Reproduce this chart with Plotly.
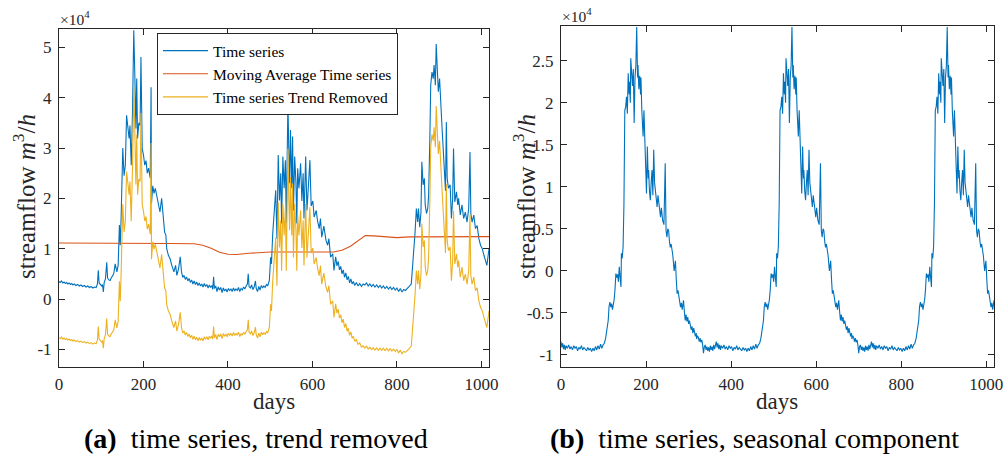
import plotly.graph_objects as go

# ---------------- data ----------------
days = [0, 3, 6, 9, 12, 15, 18, 21, 24, 27, 30, 33, 36, 40, 44, 48, 52, 56, 60, 64, 68, 72, 76, 80, 84, 88,
        91, 93, 95, 98, 101, 103, 105, 107, 110, 113, 115, 118, 121, 124, 127, 130, 133, 137, 140, 143, 145,
        147, 149, 151, 154, 157, 160, 163, 166, 168, 171, 174, 177, 179, 182, 184, 186, 189, 192, 194, 197,
        200, 203, 206, 209, 212, 216, 218, 219, 222, 225, 228, 232, 235, 239, 243, 247, 250, 253, 255, 259,
        263, 267, 272, 276, 279, 283, 287, 290, 293, 296, 299, 302, 305, 308, 311, 314, 317, 320, 323, 326,
        329, 332, 335, 338, 341, 344, 347, 350, 353, 356, 359, 362, 364, 366, 368, 371, 374, 377, 380, 383,
        386, 389, 392, 395, 398, 401, 404, 407, 410, 413, 416, 419, 422, 425, 428, 431, 434, 437, 440, 443,
        446, 448, 450, 453, 456, 459, 462, 465, 467, 470, 473, 476, 479, 482, 485, 488, 491, 494, 498, 501,
        503, 506, 508, 513, 516, 519, 522, 525, 527, 530, 533, 536, 538, 540, 542, 544, 546, 548, 551, 553,
        555, 558, 561, 563, 565, 568, 572, 575, 578, 580, 584, 587, 590, 594, 597, 601, 604, 609, 612, 616,
        619, 622, 627, 632, 636, 639, 643, 648, 651, 655, 658, 661, 664, 667, 670, 673, 676, 679, 682, 685,
        688, 691, 694, 697, 700, 704, 708, 712, 716, 720, 724, 728, 732, 736, 740, 744, 748, 752, 756, 760,
        764, 768, 772, 776, 780, 784, 788, 792, 796, 800, 804, 808, 812, 816, 820, 824, 828, 834, 837, 840,
        843, 846, 849, 851, 854, 857, 859, 862, 865, 867, 870, 873, 875, 878, 880, 883, 886, 888, 891, 893,
        896, 898, 901, 904, 907, 910, 912, 915, 917, 919, 922, 926, 929, 932, 934, 937, 941, 944, 946, 950,
        954, 958, 962, 966, 970, 973, 975, 978, 982, 986, 990, 994, 998, 1002, 1006, 1010, 1013, 1016, 1018]

time_series = [3500, 3300, 3600, 3200, 3400, 3100, 3300, 3000, 3200, 2900, 3100, 2800, 3000, 2700, 2900, 2600,
               2800, 2500, 2700, 2400, 2600, 2300, 2500, 2200, 2400, 2300,
               3000, 5700, 3200, 2800, 2600, 2900, 1400, 3300, 4000, 7300, 4200, 3800, 3700, 4300, 4600, 5200,
               7000, 5400, 6700, 14700, 10700,
               16000, 25000, 30000, 24500, 26600, 36500, 34500, 31900, 34500, 26600, 37200, 53400, 46500, 33900,
               43800, 31900, 35000, 34500, 48100, 29900,
               28600, 26600, 27500, 25000, 26000, 24000, 42100, 19000, 22500, 21000, 22000, 20000, 19300, 17300,
               20000, 16000, 13300, 12700, 10000, 8700,
               8000, 6700, 5400, 6700, 4700, 6000, 8400, 5400, 4300, 4700, 3900, 4400, 3600, 4100, 3300, 3800,
               3000, 3600, 2900, 3400,
               2700, 3200, 2600, 3000, 2400, 3100, 2500, 2900, 2200, 2800, 2300, 2700, 1900, 4400, 2100, 2600,
               1500, 2400, 1800, 2300,
               1300, 2200, 1600, 2000, 1400, 2100, 1700, 2000, 1500, 2200, 1600, 2000, 1700, 2300, 1500, 2100,
               1800, 2400, 2000, 2600,
               3000, 5000, 2500, 2200, 2800, 1900, 2400, 3600, 2100, 1500, 2500, 1800, 2700, 2200, 2600, 2300,
               2900, 2600, 3700, 8300,
               7000, 13000, 16000, 21600, 12000, 28600, 19600, 25000, 15000, 28300, 22000, 27600, 15000, 28300,
               39200, 29600, 23000, 33600, 22000, 32300,
               17600, 28300, 23000, 15000, 26000, 22000, 27000, 19500, 25000, 16000, 28300, 17600, 21500, 27600,
               18500, 19500, 16300, 17600, 15600, 14000,
               16000, 12300, 14500, 11700, 10700, 12000, 8300, 9000, 5700, 8400, 6600, 7500, 5800, 6500, 5000,
               5800, 4300, 5200, 3800, 4500,
               3200, 4000, 3000, 3500, 2700, 3300, 2600, 3100, 2500, 3000, 2800, 3200, 2600, 3000, 2500, 2900,
               2400, 2800, 2300, 2700,
               2200, 2600, 2100, 2500, 2000, 2400, 1900, 2300, 1800, 2200, 1500, 2100, 1400, 1900, 1700, 2000,
               2400, 3000, 6000, 9400,
               13300, 18000, 15300, 18000, 14300, 17300, 27300, 22700, 24000, 18700, 17000, 18000, 20600, 32000,
               42500, 45100, 43800, 46500, 42500, 50700,
               45100, 41200, 43800, 39800, 33800, 29200, 25300, 21500, 35200, 24000, 22000, 22700, 16000, 20000,
               29900, 19300, 21300, 18700, 20000, 16700,
               18700, 16000, 17300, 15300, 18000, 29200, 17000, 15300, 16700, 14000, 14600, 12000, 10700, 10000,
               8700, 7300, 6700, 8700, 10000]

trend_removed = [-7650, -7850, -7550, -7950, -7750, -8050, -7850, -8150, -7950, -8250, -8050, -8350, -8150,
                 -8450, -8250, -8550, -8350, -8650, -8450, -8750, -8550, -8850, -8650, -8950, -8750, -8850,
                 -8150, -5450, -7950, -8350, -8550, -8250, -9750, -7850, -7150, -3850, -6950, -7350, -7450,
                 -6850, -6550, -5950, -4150, -5750, -4450, 3550, -450,
                 4850, 13850, 18850, 13350, 15450, 25350, 23350, 20750, 23350, 15450, 26050, 42250, 35350, 22750,
                 32650, 20750, 23850, 23350, 36950, 18750,
                 17450, 15500, 16400, 13900, 14900, 12900, 31000, 7900, 11400, 9900, 10900, 8900, 8200, 6200,
                 8900, 4900, 2200, 1600, -1100, -2400,
                 -3050, -4350, -5650, -4350, -6350, -5050, -2650, -5650, -6750, -6350, -7150, -6650, -7450, -6950,
                 -7700, -7200, -8000, -7400, -8100, -7600,
                 -8300, -7650, -8200, -7750, -8300, -7500, -8000, -7500, -8100, -7400, -7800, -7300, -7950, -5450,
                 -7700, -7050, -8050, -7000, -7500, -6900,
                 -7850, -6850, -7400, -6950, -7500, -6800, -7200, -6850, -7350, -6650, -7250, -6850, -7150, -6600,
                 -7450, -6850, -7200, -6600, -7000, -6450,
                 -6100, -4100, -6600, -6900, -6350, -7250, -6750, -5600, -7100, -7750, -6750, -7500, -6600, -7100,
                 -6700, -7050, -6450, -6750, -5650, -1050,
                 -2350, 3650, 6650, 12250, 2650, 19250, 10250, 15650, 5650, 18950, 12650, 18250, 5650, 18950,
                 29850, 20250, 13650, 24250, 12650, 22950,
                 8250, 18950, 13650, 5650, 16650, 12650, 17650, 10150, 15650, 6650, 18950, 8250, 12150, 18250,
                 9150, 10150, 6950, 8250, 6250, 4650,
                 6650, 2950, 5150, 2350, 1350, 2650, -1050, -350, -3650, -950, -2800, -2000, -3750, -3150, -4700,
                 -4000, -5650, -4850, -6400, -5800,
                 -7200, -6550, -7750, -7400, -8400, -8050, -9000, -8700, -9550, -9300, -9750, -9350, -9950, -9550,
                 -10050, -9650, -10150, -9700, -10200, -9750,
                 -10200, -9750, -10250, -9800, -10300, -9850, -10350, -9950, -10400, -10000, -10700, -10150,
                 -10850, -10400, -10600, -10300, -9950, -9350, -6350, -2950,
                 950, 5650, 2950, 5650, 1950, 4950, 14950, 10350, 11650, 6350, 4650, 5650, 8250, 19650,
                 30150, 32750, 31450, 34150, 30150, 38350,
                 32750, 28850, 31450, 27450, 21450, 16850, 12950, 9150, 22850, 11650, 9650, 10350, 3650, 7650,
                 17550, 6950, 8950, 6350, 7650, 4350,
                 6350, 3650, 4950, 2950, 5650, 16850, 4650, 2950, 4350, 1650, 2250, -350, -1650, -2350,
                 -3650, -5050, -5650, -3650, -2350]

ma_days = [0, 100, 200, 260, 320, 340, 360, 380, 400, 420, 450, 480, 500, 650, 670, 690, 710, 725, 745,
           770, 800, 830, 1018]
moving_average = [11150, 11150, 11150, 11050, 11000, 10700, 10100, 9300, 8900, 8850, 9100, 9300, 9350, 9350,
                  9700, 10500, 11700, 12600, 12550, 12350, 12200, 12350, 12400]

# seasonal component: one season (period of 365 days)
season_period = 365
season_days = [0, 2, 4, 6, 8, 10, 12, 15, 18, 21, 24, 27, 30, 33, 36, 39, 42, 45, 48, 51, 54, 57, 60, 63, 66,
               69, 72, 75, 78, 81, 84, 87, 90, 93, 96, 99, 102, 105, 108, 111, 113, 115, 117, 119, 121, 123,
               125, 127, 129, 131, 133, 135, 137, 139, 141, 142, 144, 146, 148, 150, 152, 154, 156, 158, 160,
               161, 163, 164, 166, 168, 170, 171, 172, 174, 176, 178, 180, 181, 183, 185, 187, 188, 190, 192,
               193, 195, 197, 198, 200, 201, 203, 205, 206, 208, 210, 212, 214, 216, 218, 220, 222, 224, 226,
               228, 230, 232, 234, 236, 239, 242, 245, 247, 249, 251, 253, 255, 257, 259, 261, 263, 266, 268,
               269, 271, 273, 275, 277, 279, 281, 283, 285, 287, 288, 290, 292, 294, 296, 298, 300, 302, 304,
               306, 308, 310, 312, 314, 316, 318, 319, 321, 323, 325, 327, 329, 331, 333, 335, 337, 339, 341,
               343, 345, 347, 349, 351, 353, 355, 357, 359, 361, 363]
season_vals = [-8400, -9100, -8600, -9300, -8800, -9400, -8900, -9200, -8800, -9300, -9000, -9400, -8900, -9200,
               -9000, -9500, -9100, -9300, -8900, -9400, -9100, -9300, -9500, -9100, -9400,
               -9200, -9600, -9200, -9500, -9000, -9400, -8900, -9300, -8700, -9200, -8800, -8600, -8000, -7000,
               -5900, -4200, -3700, -4300, -3900, -4600, -4000,
               -3400, -2200, -300, -800, -400, -1300, 500, -800, -1900, 2100, 1500, 2900, 8000, 19100, 19500,
               20700, 18700, 23500, 21000,
               22500, 20000, 25300, 23000, 22000, 24000, 21500, 17600, 23000, 24400, 29000, 23000, 24500, 21600,
               23200, 21000, 23000, 19100, 17000,
               16000, 19100, 14500, 13200, 11000, 9200, 14800, 11000, 12000, 9500, 8400, 10500, 12000, 9000,
               14400, 10500, 9200, 8500, 7600,
               9000, 8200, 7000, 6400, 7500, 6000, 5500, 12800, 4800, 4000, 5000, 4800, 3500, 2800, 3200, 2500,
               1800, 0, 800,
               1200, -1000, -2700, -2300, -3000, -3500, -4300, -3800, -4600, -3900, -3500, -4800, -5900, -5200,
               -6000, -5500, -6300, -5900, -6300,
               -7000, -6600, -7400, -6800, -7200, -7800, -7400, -8100, -7700, -7900, -8400, -8000, -8500, -8200,
               -8800, -9800, -9000, -8800, -9400,
               -9000, -9500, -9100, -9600, -8900, -9400, -9000, -9500, -8800, -9300, -8600]
n_days = 1018

x_ticks = [0, 200, 400, 600, 800, 1000]
left_y_ticks = [-10000, 0, 10000, 20000, 30000, 40000, 50000]
left_y_labels = ["-1", "0", "1", "2", "3", "4", "5"]
right_y_ticks = [-10000, -5000, 0, 5000, 10000, 15000, 20000, 25000]
right_y_labels = ["-1", "-0.5", "0", "0.5", "1", "1.5", "2", "2.5"]

# ---------------- figure ----------------
BLUE = "#0072BD"
ORANGE = "#D95319"
YELLOW = "#EDB120"
FONT = "Liberation Serif"
AX = "#262626"

seas_x, seas_y = [], []
for k in range(3):
    for d, v in zip(season_days, season_vals):
        if d + k * season_period <= n_days:
            seas_x.append(d + k * season_period)
            seas_y.append(v)

fig = go.Figure()
fig.add_trace(go.Scatter(x=days, y=time_series, mode="lines", name="Time series",
                         line=dict(color=BLUE, width=1.1), xaxis="x", yaxis="y"))
fig.add_trace(go.Scatter(x=ma_days, y=moving_average, mode="lines", name="Moving Average Time series",
                         line=dict(color=ORANGE, width=1.1), xaxis="x", yaxis="y"))
fig.add_trace(go.Scatter(x=days, y=trend_removed, mode="lines", name="Time series Trend Removed",
                         line=dict(color=YELLOW, width=1.1), xaxis="x", yaxis="y"))
fig.add_trace(go.Scatter(x=seas_x, y=seas_y, mode="lines", name="Seasonal component", showlegend=False,
                         line=dict(color=BLUE, width=1.1), xaxis="x2", yaxis="y2"))

W, H = 1005, 457


def px_x(p):
    return p / W


def px_y(p):
    return 1 - p / H


axis_common = dict(showline=True, linecolor=AX, linewidth=1, mirror="allticks", ticks="inside",
                   ticklen=6, tickcolor=AX, tickwidth=1, showgrid=False, zeroline=False, automargin=False,
                   tickfont=dict(family=FONT, size=17, color=AX))

fig.update_layout(
    width=W, height=H, margin=dict(l=0, r=0, t=0, b=0, pad=0),
    paper_bgcolor="white", plot_bgcolor="white",
    font=dict(family=FONT, color=AX),
    xaxis=dict(domain=[px_x(59), px_x(489)], range=[0, 1018], tickvals=x_ticks, anchor="y",
               ticklabelstandoff=2, **axis_common),
    yaxis=dict(domain=[px_y(367), px_y(29.3)], range=[-13500, 53600], tickvals=left_y_ticks,
               ticktext=left_y_labels, anchor="x", ticklabelstandoff=3, **axis_common),
    xaxis2=dict(domain=[px_x(561), px_x(994)], range=[0, 1018], tickvals=x_ticks, anchor="y2",
                ticklabelstandoff=2, **axis_common),
    yaxis2=dict(domain=[px_y(367), px_y(26)], range=[-11430, 29130], tickvals=right_y_ticks,
                ticktext=right_y_labels, anchor="x2", ticklabelstandoff=3, **axis_common),
    legend=dict(x=px_x(157), y=px_y(33), xanchor="left", yanchor="top", bgcolor="white",
                bordercolor=AX, borderwidth=1, font=dict(family=FONT, size=15.5, color="black"),
                itemwidth=45, tracegroupgap=0),
    showlegend=True,
)

ann = []
# multipliers
ann.append(dict(text="×10<sup>4</sup>", x=px_x(58), y=px_y(18), xref="paper", yref="paper",
                xanchor="left", yanchor="middle", showarrow=False, font=dict(family=FONT, size=15.5, color=AX)))
ann.append(dict(text="×10<sup>4</sup>", x=px_x(560), y=px_y(15), xref="paper", yref="paper",
                xanchor="left", yanchor="middle", showarrow=False, font=dict(family=FONT, size=15.5, color=AX)))
# x titles
for cx in (274, 777):
    ann.append(dict(text="days", x=px_x(cx), y=px_y(401), xref="paper", yref="paper",
                    xanchor="center", yanchor="middle", showarrow=False,
                    font=dict(family=FONT, size=23, color=AX)))
# y titles
for cx in (24, 524):
    ann.append(dict(text="streamflow <i>m</i><sup>3</sup>/<i>h</i>", x=px_x(cx), y=px_y(197),
                    xref="paper", yref="paper", xanchor="center", yanchor="middle", textangle=-90,
                    showarrow=False, font=dict(family=FONT, size=25, color=AX)))
# captions
ann.append(dict(text="<b>(a)</b>  time series, trend removed", x=px_x(256), y=px_y(438), xref="paper",
                yref="paper", xanchor="center", yanchor="middle", showarrow=False,
                font=dict(family=FONT, size=28, color="black")))
ann.append(dict(text="<b>(b)</b>  time series, seasonal component", x=px_x(754), y=px_y(438), xref="paper",
                yref="paper", xanchor="center", yanchor="middle", showarrow=False,
                font=dict(family=FONT, size=28, color="black")))
fig.update_layout(annotations=ann)

fig.write_html("out.html", config={"displayModeBar": False},
               post_script="document.body.style.margin='0px';")
